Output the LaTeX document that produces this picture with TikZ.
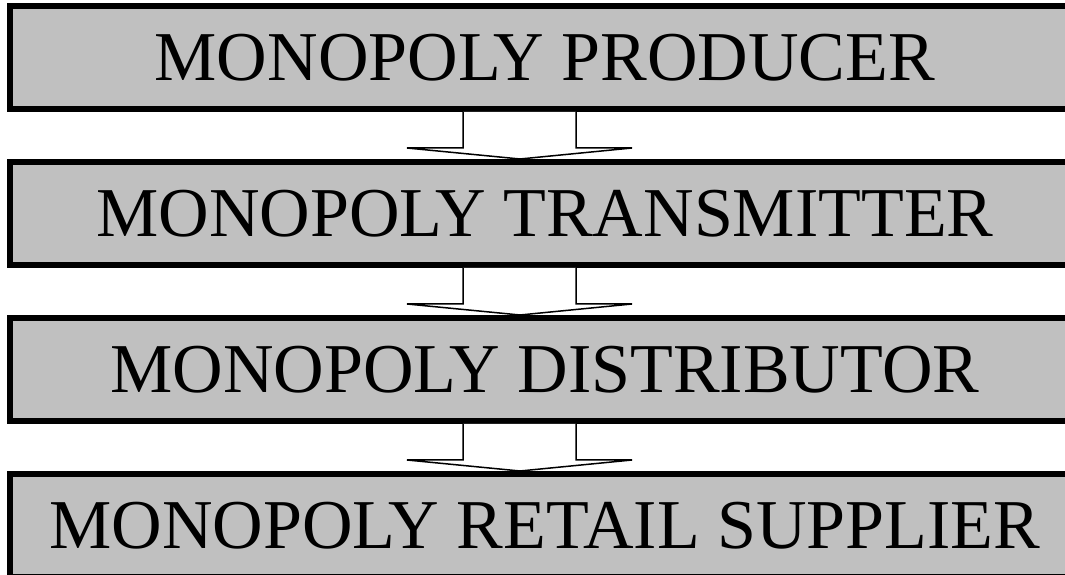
\documentclass[tikz,border=0pt]{standalone}
\usepackage{fontspec}
\setmainfont{Liberation Serif}
\usepackage{xcolor}
\usepackage{tikz}
\usetikzlibrary{positioning}

\definecolor{boxgray}{RGB}{192,192,192}

\begin{document}
\begin{tikzpicture}[
  x=1pt, y=1pt,
  stage/.style={draw, line width=6pt, fill=boxgray, minimum width=1070pt,
    minimum height=103pt, inner sep=0pt, font=\fontsize{70}{84}\selectfont},
  blockarr/.style={draw, fill=white, line width=1.5pt, line join=miter},
  node distance=47pt
]
\useasboundingbox (0,0) rectangle (1065,575);
\clip (0,0) rectangle (1065,575);

%% The four stages, top to bottom
\node[stage] (prod) at (545,517.5) {MONOPOLY PRODUCER};
\node[stage, below=of prod]  (trans) {MONOPOLY TRANSMITTER};
\node[stage, below=of trans] (dist)  {MONOPOLY DISTRIBUTOR};
\node[stage, below=of dist]  (retail) {MONOPOLY RETAIL SUPPLIER};

%% Hollow arrows between stages
\foreach \a/\b in {prod/trans, trans/dist, dist/retail}{
  \draw[blockarr] ([xshift=-82pt]\a.south) -- ++(0,-36) -- ++(-56,0)
    -- ([xshift=-25pt]\b.north) -- ++(112,11) -- ++(-56,0)
    -- ([xshift=31pt]\a.south);
}
\end{tikzpicture}
\end{document}
